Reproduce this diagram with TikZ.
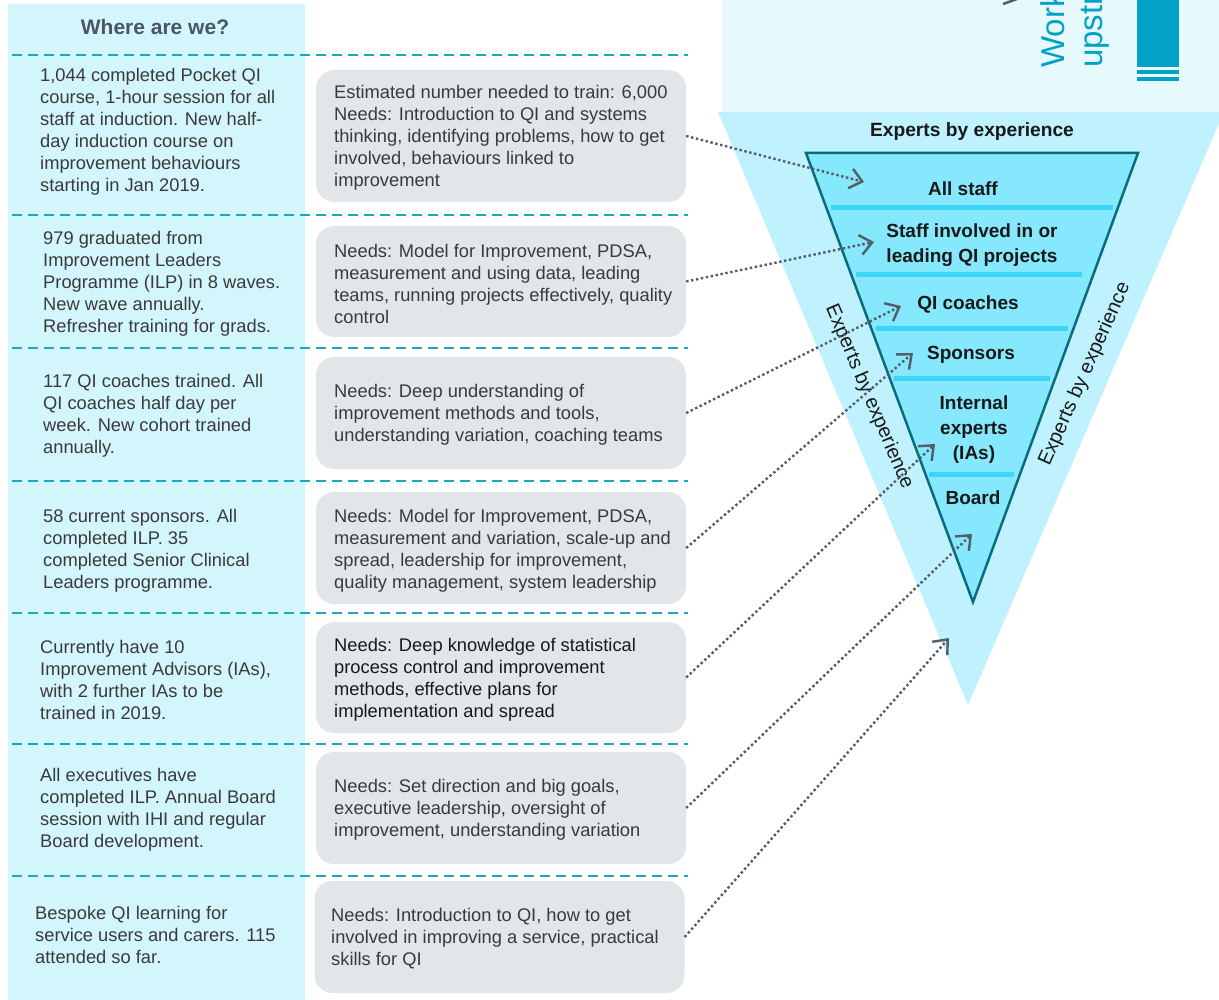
\documentclass[tikz,border=0pt]{standalone}
\usepackage{fontspec}
\setmainfont{Liberation Sans}
\usetikzlibrary{arrows.meta}
\definecolor{textgray}{HTML}{3A3A3A}
\definecolor{headgray}{HTML}{4A5662}
\definecolor{boxgray}{HTML}{E2E6E9}
\definecolor{leftbg}{HTML}{D3F6FC}
\definecolor{topbg}{HTML}{E6FAFE}
\definecolor{outertri}{HTML}{BFF2FE}
\definecolor{innertri}{HTML}{86E8FC}
\definecolor{bandcol}{HTML}{3CD5F7}
\definecolor{edgecol}{HTML}{0C6C7E}
\definecolor{dashcyan}{HTML}{1DA5C9}
\definecolor{arrowgray}{HTML}{535D65}
\definecolor{brand}{HTML}{03A1C6}
\tikzset{
  body/.style={font=\fontsize{18.3}{22}\selectfont, text=textgray, align=left, anchor=west, inner sep=0pt},
  needbox/.style={fill=boxgray, rounded corners=18pt, minimum width=370pt, minimum height=112pt, inner sep=0pt},
  tier/.style={font=\bfseries\fontsize{19}{25}\selectfont, text=black!90, align=center, inner sep=0pt},
  sideexp/.style={font=\fontsize{20}{24}\selectfont, text=black!90, inner sep=0pt},
  sepline/.style={draw=dashcyan, line width=2.8pt, dash pattern=on 9.5pt off 6.5pt},
  band/.style={draw=bandcol, line width=5pt},
  link/.style={draw=arrowgray, line width=2.4pt, dash pattern=on 2.4pt off 2.6pt,
    -{Straight Barb[length=12pt,width=20pt,line width=2.4pt]}},
  brandtext/.style={font=\fontsize{33}{38}\selectfont, text=brand, rotate=90, anchor=base west, inner sep=0pt}
}
\begin{document}
\begin{tikzpicture}[x=1pt,y=-1pt]
\useasboundingbox (0,0) rectangle (1219,1000);
\clip (0,0) rectangle (1219,1000);

% left column background
\fill[leftbg] (8,4) rectangle (305,1000);
\node[font=\bfseries\fontsize{21}{25}\selectfont, text=headgray, inner sep=0pt] (head) at (155,27) {Where are we?};

% top right panel
\fill[topbg] (722,0) rectangle (1219,112);
\node[brandtext] (work) at (1064,68) {Work};
\node[brandtext] (upstr) at (1102,68) {upstr};
\fill[brand] (1137,-1) rectangle (1179,67);
\fill[brand] (1137,70) rectangle (1179,74);
\fill[brand] (1137,77.5) rectangle (1179,81);
\draw[arrowgray, line width=2.5pt] (1003,4) -- (1017,-1);

% separators
\foreach \yy in {55,215,348,481,613,744,876}
  \draw[sepline] (12,\yy) -- (688,\yy);

% triangles
\fill[outertri] (718,112) -- (1224,112) -- (968,705) -- cycle;
\fill[innertri] (806,153) -- (1138,153) -- (973,602) -- cycle;
\draw[band] (831,208) -- (1113,208);
\draw[band] (856,275) -- (1082,275);
\draw[band] (876,329) -- (1068,329);
\draw[band] (894,379) -- (1050,379);
\draw[band] (929,474) -- (1014,474);
\draw[edgecol, line width=2.5pt, line join=miter] (806,153) -- (1138,153) -- (973,602) -- cycle;

\node[font=\bfseries\fontsize{19.2}{23}\selectfont, text=black!90, inner sep=0pt] (expTop) at (972,131.5) {Experts by experience};
\node[sideexp, rotate=-67] (expLeft) at (869,397) {Experts by experience};
\node[sideexp, rotate=66] (expRight) at (1085,374) {Experts by experience};

\node[tier] (allstaff) at (963,188.5) {All staff};
\node[tier] (involved) at (972,245.5) {Staff involved in or\\leading QI projects};
\node[tier] (coaches) at (968,304.5) {QI coaches};
\node[tier] (sponsors) at (971,355) {Sponsors};
\node[tier] (internal) at (974,430) {Internal\\experts\\(IAs)};
\node[tier] (board) at (973,497.5) {Board};

% left texts
\node[body] (now1) at (40,131.5) {1,044 completed Pocket QI\\course, 1-hour session for all\\staff at induction. New half-\\day induction course on\\improvement behaviours\\starting in Jan 2019.};
\node[body] (now2) at (43,283.5) {979 graduated from\\Improvement Leaders\\Programme (ILP) in 8 waves.\\New wave annually.\\Refresher training for grads.};
\node[body] (now3) at (43,415.5) {117 QI coaches trained. All\\QI coaches half day per\\week. New cohort trained\\annually.};
\node[body] (now4) at (43,550.5) {58 current sponsors. All\\completed ILP. 35\\completed Senior Clinical\\Leaders programme.};
\node[body] (now5) at (40,679.5) {Currently have 10\\Improvement Advisors (IAs),\\with 2 further IAs to be\\trained in 2019.};
\node[body] (now6) at (40,809.5) {All executives have\\completed ILP. Annual Board\\session with IHI and regular\\Board development.};
\node[body] (now7) at (35,934.5) {Bespoke QI learning for\\service users and carers. 115\\attended so far.};

% need boxes
\node[needbox, minimum height=132pt] (box1) at (501,136) {};
\node[needbox, minimum height=111pt] (box2) at (501,281.5) {};
\node[needbox] (box3) at (501,413) {};
\node[needbox] (box4) at (501,548) {};
\node[needbox, minimum height=111pt] (box5) at (501,677.5) {};
\node[needbox] (box6) at (501,808) {};
\node[needbox] (box7) at (499.5,937) {};

\node[body] (need1) at (334,138) {Estimated number needed to train: 6,000\\Needs: Introduction to QI and systems\\thinking, identifying problems, how to get\\involved, behaviours linked to\\improvement};
\node[body] (need2) at (334,283.5) {Needs: Model for Improvement, PDSA,\\measurement and using data, leading\\teams, running projects effectively, quality\\control};
\node[body] (need3) at (334,415) {Needs: Deep understanding of\\improvement methods and tools,\\understanding variation, coaching teams};
\node[body] (need4) at (334,550.5) {Needs: Model for Improvement, PDSA,\\measurement and variation, scale-up and\\spread, leadership for improvement,\\quality management, system leadership};
\node[body, text=black!90] (need5) at (334,679.5) {Needs: Deep knowledge of statistical\\process control and improvement\\methods, effective plans for\\implementation and spread};
\node[body] (need6) at (334,809.5) {Needs: Set direction and big goals,\\executive leadership, oversight of\\improvement, understanding variation};
\node[body] (need7) at (331,938.5) {Needs: Introduction to QI, how to get\\involved in improving a service, practical\\skills for QI};

% arrow targets
\coordinate (t1) at (864,182);
\coordinate (t2) at (874,242);
\coordinate (t3) at (901,306);
\coordinate (t4) at (913,353);
\coordinate (t5) at (935,444);
\coordinate (t6) at (972,534);
\coordinate (t7) at (949,638);

\draw[link] (box1.east) -- (t1);
\draw[link] (box2.east) -- (t2);
\draw[link] (box3.east) -- (t3);
\draw[link] (box4.east) -- (t4);
\draw[link] (box5.east) -- (t5);
\draw[link] (box6.east) -- (t6);
\draw[link] (box7.east) -- (t7);
\end{tikzpicture}
\end{document}
